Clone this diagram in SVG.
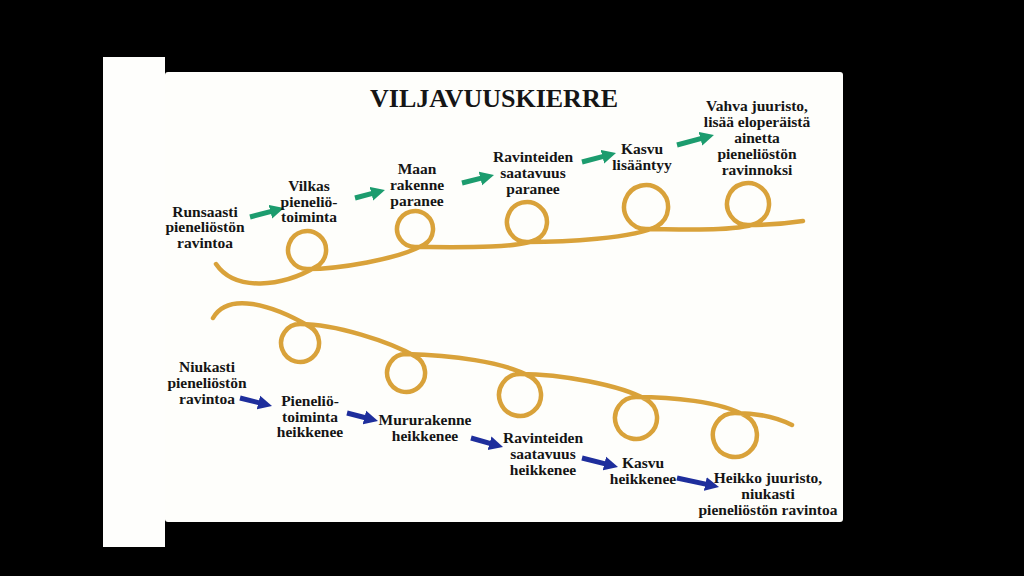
<svg xmlns="http://www.w3.org/2000/svg" width="1024" height="576" viewBox="0 0 1024 576">
<style>
.t{font-family:"Liberation Serif","Times New Roman",serif;font-weight:bold;font-size:15.5px;fill:#151515;text-anchor:middle}
.title{font-size:26px}
.rope{fill:none;stroke:#D9A23A;stroke-width:4.5;stroke-linecap:round;stroke-linejoin:round}
.ga{stroke:#1C9C6E;stroke-width:5;fill:none;marker-end:url(#gh)}
.ba{stroke:#1E2E9C;stroke-width:5;fill:none;marker-end:url(#bh)}
</style>
<defs>
<marker id="gh" markerUnits="userSpaceOnUse" markerWidth="16" markerHeight="16" viewBox="0 0 16 16" refX="4" refY="8" orient="auto"><path d="M0,1 L14,8 L0,15 z" fill="#1C9C6E"/></marker>
<marker id="bh" markerUnits="userSpaceOnUse" markerWidth="16" markerHeight="16" viewBox="0 0 16 16" refX="4" refY="8" orient="auto"><path d="M0,1 L14,8 L0,15 z" fill="#1E2E9C"/></marker>
</defs>
<rect x="0" y="0" width="1024" height="576" fill="#000"/>
<rect x="103" y="57" width="62" height="490" fill="#FEFEFC"/>
<rect x="165" y="72" width="678" height="450" rx="3" fill="#FEFEFB"/>
<text class="t title" x="494" y="107">VILJAVUUSKIERRE</text>
<g id="ropes">
<path class="rope" d="M216 264 C235 292,282 287,316.5 266.5 A19 19 0 1 0 307 269 C337 269,398 259.6,424 244.6 A18 18 0 1 0 415 247 C445 247,519.7 249.3,537 239.3 A20 20 0 1 0 527 242 C562 242,635.4 238.6,657 226.1 A22 22 0 1 0 646 229 C676 229,741.2 232.2,758.5 222.2 A21 21 0 1 0 748 225 C770 225,790 223,803 221"/>
<path class="rope" d="M213 318 C228 292,270.5 304,309.5 326.5 A19 19 0 1 1 300 324 C335 324,389.5 341.5,415.5 356.5 A19 19 0 1 1 406 354 C450 355,504.5 361.8,530.5 376.8 A21 21 0 1 1 520 374 C560 374,620.5 384.8,646.5 399.8 A21 21 0 1 1 636 397 C670 397,720 401,746 416 A22 22 0 1 1 735 413 C760 413,780 419,792 425"/>
</g>
<g id="connectors">
<line class="ga" x1="250" y1="217" x2="274.3" y2="210.6"/>
<line class="ga" x1="355" y1="198" x2="375.3" y2="192.6"/>
<line class="ga" x1="462" y1="183" x2="484.3" y2="177.4"/>
<line class="ga" x1="582" y1="162" x2="606.3" y2="155.6"/>
<line class="ga" x1="677" y1="145" x2="704.3" y2="137.6"/>
<line class="ba" x1="240" y1="398" x2="262.3" y2="403.6"/>
<line class="ba" x1="347" y1="413" x2="368.3" y2="418.5"/>
<line class="ba" x1="471" y1="438" x2="493.4" y2="444.3"/>
<line class="ba" x1="582" y1="458" x2="608.3" y2="464.6"/>
<line class="ba" x1="677" y1="478" x2="709.2" y2="484.9"/>
</g>
<g id="u1"><text class="t" x="205"><tspan x="205" y="217">Runsaasti</tspan><tspan x="205" y="232">pieneliöstön</tspan><tspan x="205" y="248">ravintoa</tspan></text></g>
<g id="u2"><text class="t" x="309"><tspan x="309" y="191">Vilkas</tspan><tspan x="309" y="207">pieneliö-</tspan><tspan x="309" y="222">toiminta</tspan></text></g>
<g id="u3"><text class="t" x="417"><tspan x="417" y="174">Maan</tspan><tspan x="417" y="190">rakenne</tspan><tspan x="417" y="206">paranee</tspan></text></g>
<g id="u4"><text class="t" x="533"><tspan x="533" y="162">Ravinteiden</tspan><tspan x="533" y="178">saatavuus</tspan><tspan x="533" y="194">paranee</tspan></text></g>
<g id="u5"><text class="t" x="642"><tspan x="642" y="154">Kasvu</tspan><tspan x="642" y="170">lisääntyy</tspan></text></g>
<g id="u6"><text class="t" x="757"><tspan x="757" y="111">Vahva juuristo,</tspan><tspan x="757" y="127">lisää eloperäistä</tspan><tspan x="757" y="143">ainetta</tspan><tspan x="757" y="159">pieneliöstön</tspan><tspan x="757" y="175">ravinnoksi</tspan></text></g>
<g id="l1"><text class="t" x="207"><tspan x="207" y="372">Niukasti</tspan><tspan x="207" y="388">pieneliöstön</tspan><tspan x="207" y="404">ravintoa</tspan></text></g>
<g id="l2"><text class="t" x="310"><tspan x="310" y="406">Pieneliö-</tspan><tspan x="310" y="422">toiminta</tspan><tspan x="310" y="437">heikkenee</tspan></text></g>
<g id="l3"><text class="t" x="425"><tspan x="425" y="425">Mururakenne</tspan><tspan x="425" y="441">heikkenee</tspan></text></g>
<g id="l4"><text class="t" x="543"><tspan x="543" y="443">Ravinteiden</tspan><tspan x="543" y="459">saatavuus</tspan><tspan x="543" y="475">heikkenee</tspan></text></g>
<g id="l5"><text class="t" x="643"><tspan x="643" y="468">Kasvu</tspan><tspan x="643" y="484">heikkenee</tspan></text></g>
<g id="l6"><text class="t" x="768"><tspan x="768" y="483">Heikko juuristo,</tspan><tspan x="768" y="499">niukasti</tspan><tspan x="768" y="515">pieneliöstön ravintoa</tspan></text></g>
</svg>
